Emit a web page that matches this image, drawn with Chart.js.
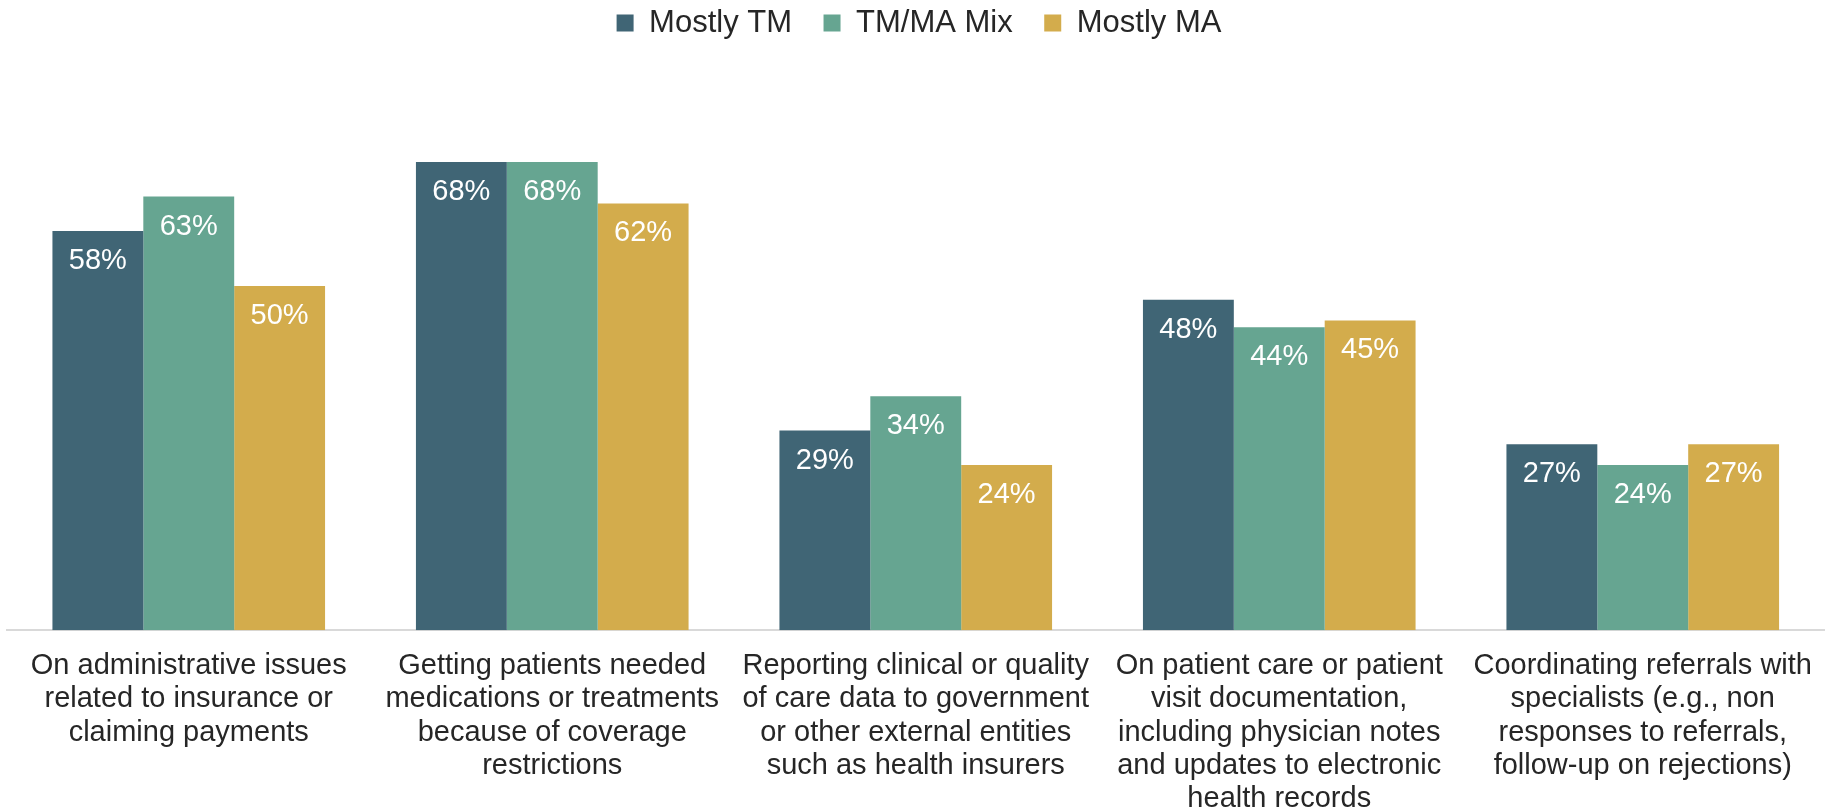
<!DOCTYPE html>
<html>
<head>
<meta charset="utf-8">
<script src="https://cdn.jsdelivr.net/npm/chart.js@4.4.1/dist/chart.umd.min.js"></script>
<style>
    html, body { margin: 0; padding: 0; background: #fff; overflow: hidden; }
    .wrap { position: relative; width: 1831px; height: 812px; }
</style>
</head>
<body>
<div class="wrap"><canvas id="grafico"></canvas></div>
<script>
// categorias (eixo x), uma linha por item
const categorias = [
    ['On administrative issues', 'related to insurance or', 'claiming payments'],
    ['Getting patients needed', 'medications or treatments', 'because of coverage', 'restrictions'],
    ['Reporting clinical or quality', 'of care data to government', 'or other external entities', 'such as health insurers'],
    ['On patient care or patient', 'visit documentation,', 'including physician notes', 'and updates to electronic', 'health records'],
    ['Coordinating referrals with', 'specialists (e.g., non', 'responses to referrals,', 'follow-up on rejections)']
];

const series = ['Mostly TM', 'TM/MA Mix', 'Mostly MA'];
const mostlyTM = [58, 68, 29, 48, 27];
const tmMaMix = [63, 68, 34, 44, 24];
const mostlyMA = [50, 62, 24, 45, 27];

const cores = ['#406575', '#66a591', '#d3ac4c'];

// rótulos de valor dentro das barras
const rotulosBarras = {
    id: 'rotulosBarras',
    afterDatasetsDraw(chart) {
        const ctx = chart.ctx;
        ctx.save();
        ctx.font = '29px "Liberation Sans", Arial, sans-serif';
        ctx.fillStyle = '#ffffff';
        ctx.textAlign = 'center';
        ctx.textBaseline = 'middle';
        chart.data.datasets.forEach((ds, i) => {
            chart.getDatasetMeta(i).data.forEach((bar, j) => {
                ctx.fillText(ds.data[j] + '%', bar.x, bar.y + 30);
            });
        });
        ctx.restore();
    }
};

document.addEventListener('DOMContentLoaded', () => {
    const ctx = document.getElementById('grafico').getContext('2d');
    new Chart(ctx, {
        type: 'bar',
        data: {
            labels: categorias,
            datasets: [mostlyTM, tmMaMix, mostlyMA].map((valores, i) => ({
                label: series[i],
                data: valores,
                backgroundColor: cores[i],
                borderWidth: 0,
                categoryPercentage: 0.75,
                barPercentage: 1.0
            }))
        },
        options: {
            responsive: true,
            maintainAspectRatio: false,
            animation: false,
            layout: {
                padding: { top: -24, left: 7, right: 0, bottom: -23 }
            },
            plugins: {
                legend: {
                    position: 'top',
                    labels: {
                        boxWidth: 17,
                        boxHeight: 17,
                        padding: 31.5,
                        color: '#262626',
                        font: { family: '"Liberation Sans", Arial, sans-serif', size: 31 }
                    }
                },
                tooltip: { enabled: false }
            },
            scales: {
                x: {
                    grid: { display: false, drawTicks: false },
                    border: { display: true, color: '#d9d9d9', width: 2 },
                    ticks: {
                        color: '#262626',
                        padding: 19,
                        autoSkip: false,
                        maxRotation: 0,
                        font: { family: '"Liberation Sans", Arial, sans-serif', size: 29, lineHeight: 1.15 }
                    }
                },
                y: {
                    display: false,
                    min: 0,
                    max: 84.5
                }
            }
        },
        plugins: [rotulosBarras]
    });
});
</script>
</body>
</html>
